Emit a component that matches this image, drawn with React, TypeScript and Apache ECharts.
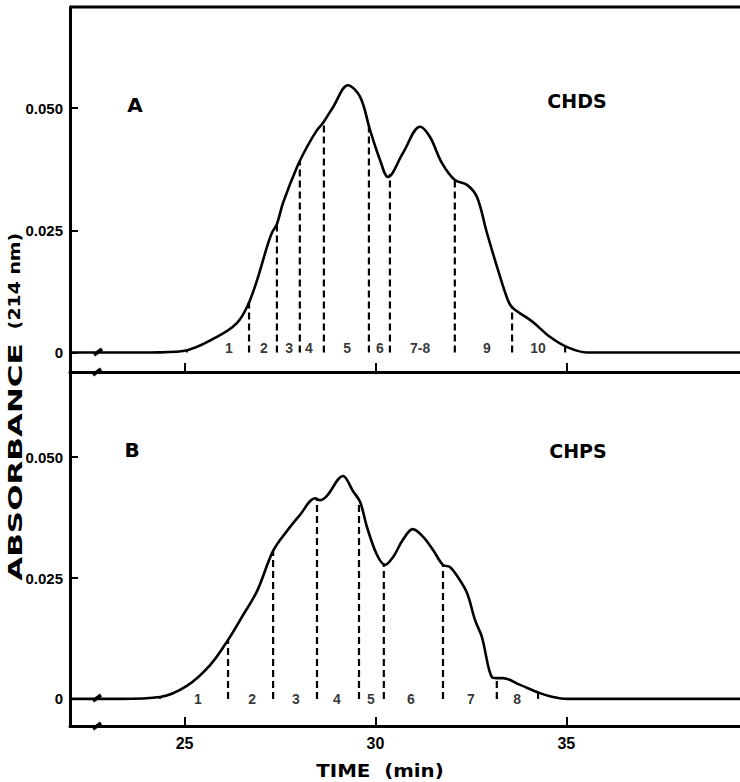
import React, { useEffect, useRef } from "react";
import * as echarts from "echarts";

// ---- Data (time in min, absorbance at 214 nm) ----
const chdsTime = [22, 24.1, 24.96, 25.85, 26.37, 26.66, 26.9, 27.16, 27.29, 27.42, 27.58, 27.95, 28.21, 28.47, 28.63, 28.89, 29.28, 29.6, 29.86, 30.12, 30.33, 30.72, 31.17, 31.43, 31.74, 32.08, 32.4, 32.66, 32.92, 33.21, 33.47, 33.6, 34.13, 34.57, 35.02, 35.54, 39.55];
const chdsAbs = [0, 0, 0.0003, 0.0032, 0.006, 0.0097, 0.0148, 0.0216, 0.0245, 0.0263, 0.0306, 0.038, 0.0421, 0.0455, 0.047, 0.0502, 0.0547, 0.0523, 0.0455, 0.0394, 0.0359, 0.0408, 0.0462, 0.0441, 0.0388, 0.0353, 0.0343, 0.0318, 0.0245, 0.0169, 0.0107, 0.0091, 0.0062, 0.0032, 0.0011, 0, 0];

const chpsTime = [22, 23.31, 24.36, 25.06, 25.67, 26.14, 26.53, 26.9, 27.32, 27.68, 28.02, 28.42, 28.55, 28.73, 29.15, 29.41, 29.6, 29.78, 30.04, 30.25, 30.46, 30.72, 30.98, 31.25, 31.51, 31.77, 31.95, 32.16, 32.4, 32.61, 32.79, 33.05, 33.18, 33.34, 33.79, 34.31, 34.65, 35.02, 39.55];
const chpsAbs = [0, 0, 0.0004, 0.0027, 0.007, 0.0122, 0.0173, 0.0223, 0.0306, 0.0347, 0.038, 0.0415, 0.0411, 0.042, 0.0461, 0.043, 0.0407, 0.0355, 0.0298, 0.0277, 0.0293, 0.0329, 0.0351, 0.0335, 0.0308, 0.0277, 0.0273, 0.0252, 0.0219, 0.0163, 0.0128, 0.0045, 0.0043, 0.0043, 0.0029, 0.0012, 0.0004, 0, 0];

// fraction cut points (min)
const chdsCuts = [25.06, 26.69, 27.42, 28.02, 28.65, 29.83, 30.38, 32.08, 33.58, 34.97];
const chpsCuts = [24.36, 26.14, 27.32, 28.47, 29.57, 30.22, 31.77, 33.18, 34.26];

// fraction labels and their positions (min)
const chdsFractions = ["1", "2", "3", "4", "5", "6", "7-8", "9", "10"];
const chdsFractionPos = [26.16, 27.08, 27.74, 28.26, 29.26, 30.12, 31.17, 32.92, 34.26];
const chpsFractions = ["1", "2", "3", "4", "5", "6", "7", "8"];
const chpsFractionPos = [25.35, 26.77, 27.92, 28.99, 29.88, 30.93, 32.5, 33.71];

const timeTicks = [25, 30, 35];
const absTicks = [0, 0.025, 0.05];

function interp(ts: number[], vs: number[], t: number): number {
  for (let i = 0; i < ts.length - 1; i++) {
    if (t >= ts[i] && t <= ts[i + 1]) {
      const f = (t - ts[i]) / (ts[i + 1] - ts[i]);
      return vs[i] + f * (vs[i + 1] - vs[i]);
    }
  }
  return 0;
}

const BLACK = "#000";
const LAB_FONT = "Liberation Sans";
const HEAD_FONT = "DejaVu Sans";

function cutSeries(ts: number[], vs: number[], cuts: number[], idx: number) {
  return cuts.map((c) => ({
    type: "line",
    xAxisIndex: idx,
    yAxisIndex: idx,
    showSymbol: false,
    silent: true,
    data: [
      [c, 0],
      [c, interp(ts, vs, c)],
    ],
    lineStyle: { color: BLACK, width: 2.2, type: [7, 4] },
  }));
}

function labelSeries(names: string[], pos: number[], y: number, idx: number) {
  return {
    type: "scatter",
    xAxisIndex: idx,
    yAxisIndex: idx,
    symbolSize: 1,
    itemStyle: { color: "rgba(0,0,0,0)" },
    silent: true,
    data: names.map((n, i) => [pos[i], y, n]),
    label: {
      show: true,
      position: "inside",
      formatter: (p: any) => p.data[2],
      color: BLACK,
      textBorderWidth: 0,
      fontFamily: LAB_FONT,
      fontWeight: "bold",
      fontSize: 14,
    },
  };
}

function xAxisDef(idx: number, showLabels: boolean) {
  return {
    type: "value",
    gridIndex: idx,
    min: 22,
    max: 39.55,
    axisLine: { show: true, onZero: false, lineStyle: { color: BLACK, width: 3 } },
    axisTick: { show: true, inside: true, length: 9, customValues: timeTicks, lineStyle: { color: BLACK, width: 2 } },
    axisLabel: {
      show: showLabels,
      customValues: timeTicks,
      color: BLACK,
      fontFamily: LAB_FONT,
      fontWeight: "bold",
      fontSize: 16,
      margin: 9,
    },
    splitLine: { show: false },
  };
}

function yAxisDef(idx: number, min: number, max: number) {
  return {
    type: "value",
    gridIndex: idx,
    min,
    max,
    axisLine: { show: true, onZero: false, lineStyle: { color: BLACK, width: 3 } },
    axisTick: { show: true, inside: true, length: 8, customValues: absTicks, lineStyle: { color: BLACK, width: 2 } },
    axisLabel: {
      show: true,
      customValues: absTicks,
      formatter: (v: number) => (v === 0 ? "0" : v.toFixed(3)),
      color: BLACK,
      fontFamily: LAB_FONT,
      fontWeight: "bold",
      fontSize: 15,
      margin: 7,
    },
    splitLine: { show: false },
  };
}

function breakMark(x: number, y: number) {
  return {
    type: "line",
    shape: { x1: x - 4, y1: y + 3, x2: x + 4, y2: y - 3 },
    style: { stroke: BLACK, lineWidth: 3.5 },
  };
}

export default function App() {
  const ref = useRef<HTMLDivElement>(null);

  useEffect(() => {
    if (!ref.current) return;
    const chart = echarts.init(ref.current, undefined, { renderer: "svg" });
    const option: any = {
      animation: false,
      backgroundColor: "#fff",
      grid: [
        { left: 70, right: 0, top: 7, height: 365 },
        { left: 70, right: 0, top: 372, height: 354 },
      ],
      xAxis: [xAxisDef(0, false), xAxisDef(1, true)],
      yAxis: [yAxisDef(0, -0.004, 0.0707), yAxisDef(1, -0.0056, 0.0676)],
      series: [
        {
          type: "line",
          name: "CHDS",
          xAxisIndex: 0,
          yAxisIndex: 0,
          showSymbol: false,
          smooth: 0.35,
          data: chdsTime.map((t, i) => [t, chdsAbs[i]]),
          lineStyle: { color: BLACK, width: 2.6 },
        },
        {
          type: "line",
          name: "CHPS",
          xAxisIndex: 1,
          yAxisIndex: 1,
          showSymbol: false,
          smooth: 0.35,
          data: chpsTime.map((t, i) => [t, chpsAbs[i]]),
          lineStyle: { color: BLACK, width: 2.6 },
        },
        ...cutSeries(chdsTime, chdsAbs, chdsCuts, 0),
        ...cutSeries(chpsTime, chpsAbs, chpsCuts, 1),
        labelSeries(chdsFractions, chdsFractionPos, 0.001, 0),
        labelSeries(chpsFractions, chpsFractionPos, 0, 1),
      ],
      graphic: [
        { type: "line", shape: { x1: 70, y1: 7, x2: 740, y2: 7 }, style: { stroke: BLACK, lineWidth: 3 } },
        {
          type: "text", x: 135, y: 105,
          style: { text: "A", font: `bold 20px "${HEAD_FONT}"`, fill: BLACK, textAlign: "center", textVerticalAlign: "middle" },
        },
        {
          type: "text", x: 577, y: 101,
          style: { text: "CHDS", font: `bold 19px "${HEAD_FONT}"`, fill: BLACK, textAlign: "center", textVerticalAlign: "middle" },
        },
        {
          type: "text", x: 132, y: 450,
          style: { text: "B", font: `bold 20px "${HEAD_FONT}"`, fill: BLACK, textAlign: "center", textVerticalAlign: "middle" },
        },
        {
          type: "text", x: 578, y: 451,
          style: { text: "CHPS", font: `bold 19px "${HEAD_FONT}"`, fill: BLACK, textAlign: "center", textVerticalAlign: "middle" },
        },
        {
          type: "text", x: 15, y: 462, rotation: Math.PI / 2, scaleX: 1.55,
          style: { text: "ABSORBANCE", font: `bold 20px "${HEAD_FONT}"`, fill: BLACK, textAlign: "center", textVerticalAlign: "middle" },
        },
        {
          type: "text", x: 15, y: 281, rotation: Math.PI / 2, scaleX: 1.18,
          style: { text: "(214 nm)", font: `bold 16px "${HEAD_FONT}"`, fill: BLACK, textAlign: "center", textVerticalAlign: "middle" },
        },
        {
          type: "text", x: 380, y: 770, scaleX: 1.1,
          style: { text: "TIME  (min)", font: `bold 18px "${HEAD_FONT}"`, fill: BLACK, textAlign: "center", textVerticalAlign: "middle" },
        },
        breakMark(98, 352),
        breakMark(97, 372),
        breakMark(97, 698),
        breakMark(97, 726),
      ],
    };
    chart.setOption(option);
    return () => chart.dispose();
  }, []);

  return (
    <div
      ref={ref}
      style={{ position: "fixed", left: 0, top: 0, width: 740, height: 782, background: "#fff" }}
    />
  );
}
